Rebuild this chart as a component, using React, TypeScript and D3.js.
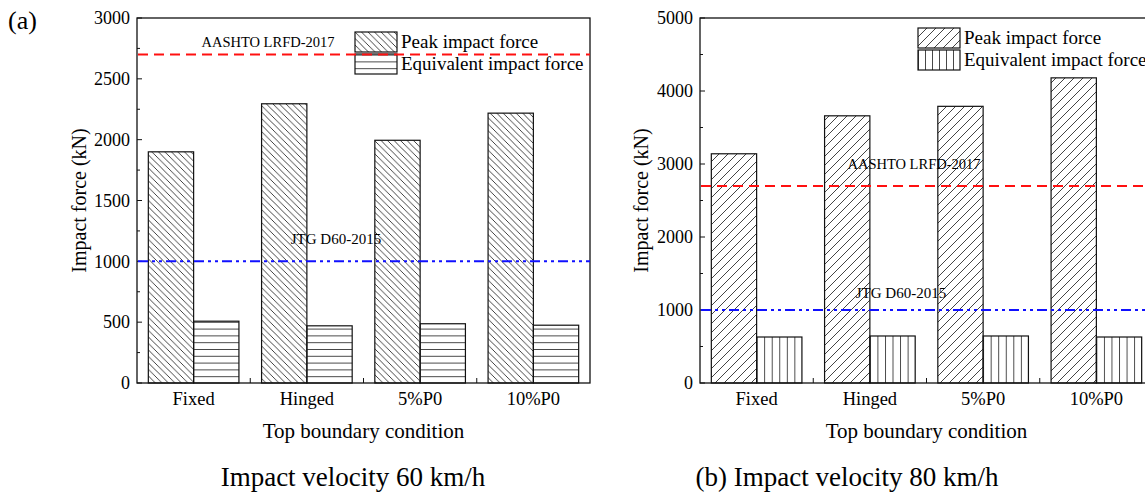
import { useEffect, useRef } from "react";
import * as d3 from "d3";

const width = 1145;
const height = 494;

const categories = ["Fixed", "Hinged", "5%P0", "10%P0"];
const peak60 = [1900, 2295, 1995, 2218];
const equiv60 = [508, 470, 487, 475];
const peak80 = [3140, 3660, 3790, 4180];
const equiv80 = [630, 644, 644, 630];
const aashtoLimit = 2700;
const jtgLimit = 1000;
const ticks60 = [0, 500, 1000, 1500, 2000, 2500, 3000];
const ticks80 = [0, 1000, 2000, 3000, 4000, 5000];
const legendLabels = ["Peak impact force", "Equivalent impact force"];

const FONT = "'Liberation Serif', 'Times New Roman', serif";

const panels = [
  {
    id: "a",
    x0: 137,
    x1: 590,
    yMax: 3000,
    ticks: ticks60,
    minor: 250,
    peak: peak60,
    equiv: equiv60,
    peakFill: "url(#backHatch)",
    eqFill: "url(#horizHatch)",
    legendTop: 32,
    aashtoLabel: { dx: 131, dy: -8 },
    jtgLabel: { dx: 199, dy: -17 },
    titleX: 86,
    caption: "Impact velocity 60 km/h",
    captionX: 353,
  },
  {
    id: "b",
    x0: 700,
    x1: 1153,
    yMax: 5000,
    ticks: ticks80,
    minor: 500,
    peak: peak80,
    equiv: equiv80,
    peakFill: "url(#fwdHatch)",
    eqFill: "url(#vertHatch)",
    legendTop: 28,
    aashtoLabel: { dx: 214, dy: -17 },
    jtgLabel: { dx: 201, dy: -12 },
    titleX: 648,
    caption: "(b) Impact velocity 80 km/h",
    captionX: 847,
  },
];

const top = 18;
const bottom = 383;

const App = () => {
  const ref = useRef(null);

  useEffect(() => {
    const svg = d3.select(ref.current);
    svg.selectAll("*").remove();
    svg.attr("width", width).attr("height", height).attr("viewBox", [0, 0, width, height]);

    const defs = svg.append("defs");
    // diagonal "\" hatch
    defs
      .append("pattern")
      .attr("id", "backHatch")
      .attr("patternUnits", "userSpaceOnUse")
      .attr("width", 6.5)
      .attr("height", 6.5)
      .append("path")
      .attr("d", "M-1,-1L7.5,7.5M-1,5.5L1,7.5M5.5,-1L7.5,1")
      .attr("stroke", "#222")
      .attr("stroke-width", 0.85);
    // diagonal "/" hatch
    defs
      .append("pattern")
      .attr("id", "fwdHatch")
      .attr("patternUnits", "userSpaceOnUse")
      .attr("width", 9)
      .attr("height", 9)
      .append("path")
      .attr("d", "M-1,10L10,-1M-1,1L1,-1M8,10L10,8")
      .attr("stroke", "#222")
      .attr("stroke-width", 0.85);
    defs
      .append("pattern")
      .attr("id", "horizHatch")
      .attr("patternUnits", "userSpaceOnUse")
      .attr("y", bottom)
      .attr("width", 10)
      .attr("height", 6.8)
      .append("path")
      .attr("d", "M0,0.5H10")
      .attr("stroke", "#333")
      .attr("stroke-width", 0.9);
    defs
      .append("pattern")
      .attr("id", "vertHatch")
      .attr("patternUnits", "objectBoundingBox")
      .attr("width", 1 / 6)
      .attr("height", 1)
      .append("path")
      .attr("d", "M0.5,0V1000")
      .attr("stroke", "#333")
      .attr("stroke-width", 0.9);

    svg
      .append("text")
      .attr("x", 8)
      .attr("y", 29)
      .attr("font-family", FONT)
      .attr("font-size", 26)
      .text("(a)");

    panels.forEach((p) => {
      const g = svg.append("g");
      const x = d3.scaleBand().domain(categories).range([p.x0, p.x1]).padding(0);
      const y = d3.scaleLinear().domain([0, p.yMax]).range([bottom, top]);
      const bw = x.bandwidth() * 0.4;
      const center = (c) => x(c) + x.bandwidth() / 2;

      // bars
      g.append("g")
        .selectAll("rect")
        .data(categories)
        .join("rect")
        .attr("x", (c) => center(c) - bw)
        .attr("y", (c, i) => y(p.peak[i]))
        .attr("width", bw)
        .attr("height", (c, i) => bottom - y(p.peak[i]))
        .attr("fill", p.peakFill)
        .attr("stroke", "#111")
        .attr("stroke-width", 1.2);
      g.append("g")
        .selectAll("rect")
        .data(categories)
        .join("rect")
        .attr("x", (c) => center(c))
        .attr("y", (c, i) => y(p.equiv[i]))
        .attr("width", bw)
        .attr("height", (c, i) => bottom - y(p.equiv[i]))
        .attr("fill", p.eqFill)
        .attr("stroke", "#111")
        .attr("stroke-width", 1.2);

      // frame
      g.append("rect")
        .attr("x", p.x0)
        .attr("y", top)
        .attr("width", p.x1 - p.x0)
        .attr("height", bottom - top)
        .attr("fill", "none")
        .attr("stroke", "#111")
        .attr("stroke-width", 1.3);

      // y axis ticks, inward
      const minorTicks = d3.range(0, p.yMax + 1, p.minor).filter((v) => !p.ticks.includes(v));
      g.append("g")
        .selectAll("line")
        .data(p.ticks)
        .join("line")
        .attr("x1", p.x0)
        .attr("x2", p.x0 + 5)
        .attr("y1", (v) => y(v))
        .attr("y2", (v) => y(v))
        .attr("stroke", "#111");
      g.append("g")
        .selectAll("line")
        .data(minorTicks)
        .join("line")
        .attr("x1", p.x0)
        .attr("x2", p.x0 + 3)
        .attr("y1", (v) => y(v))
        .attr("y2", (v) => y(v))
        .attr("stroke", "#111");
      g.append("g")
        .attr("font-family", FONT)
        .attr("font-size", 18)
        .attr("text-anchor", "end")
        .selectAll("text")
        .data(p.ticks)
        .join("text")
        .attr("x", p.x0 - 7)
        .attr("y", (v) => y(v))
        .attr("dy", "0.35em")
        .text((v) => v);

      // x axis ticks between categories
      g.append("g")
        .selectAll("line")
        .data(categories.slice(1))
        .join("line")
        .attr("x1", (c) => x(c))
        .attr("x2", (c) => x(c))
        .attr("y1", bottom)
        .attr("y2", bottom - 5)
        .attr("stroke", "#111");
      g.append("g")
        .attr("font-family", FONT)
        .attr("font-size", 18.5)
        .attr("text-anchor", "middle")
        .selectAll("text")
        .data(categories)
        .join("text")
        .attr("x", (c) => center(c))
        .attr("y", 405)
        .text((c) => c);

      g.append("text")
        .attr("x", (p.x0 + p.x1) / 2)
        .attr("y", 438)
        .attr("font-family", FONT)
        .attr("font-size", 21)
        .attr("text-anchor", "middle")
        .text("Top boundary condition");
      g.append("text")
        .attr("transform", `translate(${p.titleX},${(top + bottom) / 2}) rotate(-90)`)
        .attr("font-family", FONT)
        .attr("font-size", 20)
        .attr("text-anchor", "middle")
        .text("Impact force (kN)");
      g.append("text")
        .attr("x", p.captionX)
        .attr("y", 486)
        .attr("font-family", FONT)
        .attr("font-size", 27)
        .attr("text-anchor", "middle")
        .text(p.caption);

      // legend
      const lg = g.append("g").attr("transform", `translate(${p.x0 + 218},${p.legendTop})`);
      [p.peakFill, p.eqFill].forEach((fill, i) => {
        lg.append("rect")
          .attr("x", 0)
          .attr("y", i * 22)
          .attr("width", 42)
          .attr("height", 20)
          .attr("fill", fill)
          .attr("stroke", "#111")
          .attr("stroke-width", 1.2);
        lg.append("text")
          .attr("x", 46)
          .attr("y", i * 22 + 16)
          .attr("font-family", FONT)
          .attr("font-size", 19)
          .text(legendLabels[i]);
      });

      // code limit lines
      g.append("line")
        .attr("x1", p.x0 + 1)
        .attr("x2", p.x1)
        .attr("y1", y(aashtoLimit))
        .attr("y2", y(aashtoLimit))
        .attr("stroke", "#ff1010")
        .attr("stroke-width", 2)
        .attr("stroke-dasharray", "10,6");
      g.append("line")
        .attr("x1", p.x0 + 1)
        .attr("x2", p.x1)
        .attr("y1", y(jtgLimit))
        .attr("y2", y(jtgLimit))
        .attr("stroke", "#1010ff")
        .attr("stroke-width", 2)
        .attr("stroke-dasharray", "10,4,3,4,3,4");
      g.append("text")
        .attr("x", p.x0 + p.aashtoLabel.dx)
        .attr("y", y(aashtoLimit) + p.aashtoLabel.dy)
        .attr("font-family", FONT)
        .attr("font-size", 14.5)
        .attr("text-anchor", "middle")
        .text("AASHTO LRFD-2017");
      g.append("text")
        .attr("x", p.x0 + p.jtgLabel.dx)
        .attr("y", y(jtgLimit) + p.jtgLabel.dy)
        .attr("font-family", FONT)
        .attr("font-size", 15)
        .attr("text-anchor", "middle")
        .text("JTG D60-2015");
    });
  });

  return (
    <svg
      ref={ref}
      style={{ position: "absolute", left: 0, top: 0, background: "#fff" }}
    ></svg>
  );
};

export default App;
